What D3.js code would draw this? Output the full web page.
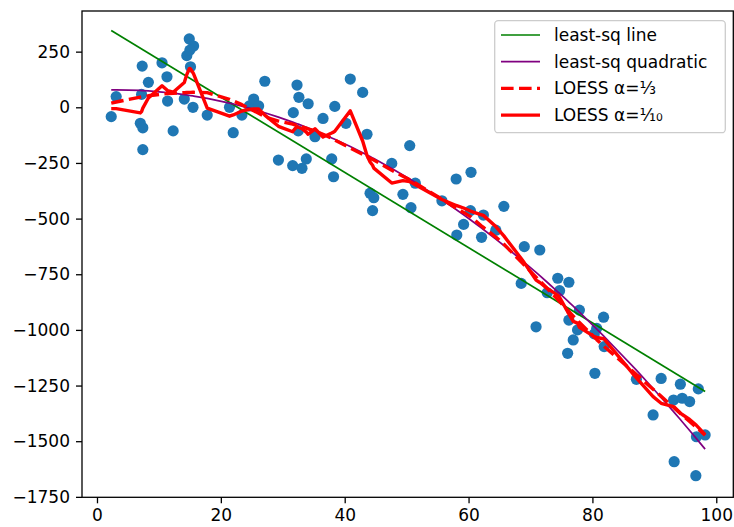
<!DOCTYPE html>
<html>
<head>
<meta charset="utf-8">
<script src="https://cdn.jsdelivr.net/npm/d3@7"></script>
<style>
  html, body { margin: 0; padding: 0; background: #fff; }
  svg { display: block; font-family: "DejaVu Sans", sans-serif; }
</style>
</head>
<body>
<svg id="chart" width="734" height="527"></svg>
<script>
// Observations
const xs = [2.3, 3.1, 7.3, 7.2, 7.0, 7.4, 7.4, 8.3, 10.5, 11.3, 11.4, 12.3, 14.1, 14.9, 15.6, 14.5, 15.0, 15.1, 15.5, 17.8,
  21.4, 22.0, 23.4, 24.6, 25.3, 26.1, 27.1, 29.3, 31.7, 31.6, 32.3, 32.6, 32.5, 33.1, 33.8, 34.1, 35.2, 36.5, 37.9, 38.2,
  38.4, 40.2, 40.9, 42.9, 43.6, 44.1, 44.7, 44.5, 47.6, 49.4, 50.5, 50.7, 51.4, 55.7, 58.0, 58.1, 59.2, 60.3, 60.4, 62.1,
  62.4, 64.4, 65.7, 68.5, 69.0, 70.9, 71.5, 72.7, 74.4, 74.7, 76.0, 76.2, 76.2, 76.9, 77.6, 77.9, 80.3, 80.4, 80.7, 81.8,
  81.9, 87.1, 89.8, 91.1, 93.1, 93.2, 94.2, 94.5, 95.7, 96.7, 96.8, 97.1, 98.2];
const ys = [-42, 48, 185, 58, -72, -92, -190, 112, 200, 137, 28, -106, 37, 307, 275, 232, 257, 182, 0, -35,
  0, -114, -35, 6, 37, 6, 117, -237, -24, -262, 100, 45, -106, -274, -232, 16, -132, -50, -232, -312,
  4, -72, 127, 67, -121, -386, -406, -464, -252, -391, -172, -451, -341, -420, -322, -574, -526, -464, -292, -584,
  -484, -552, -445, -791, -626, -986, -641, -833, -768, -824, -1105, -786, -956, -1045, -1000, -911, -1018, -1195, -993, -943,
  -1075, -1222, -1382, -1218, -1315, -1592, -1244, -1307, -1322, -1655, -1480, -1265, -1472];

const xTicks = [0, 20, 40, 60, 80, 100];
const yTicks = [250, 0, -250, -500, -750, -1000, -1250, -1500, -1750];
const legendLabels = ["least-sq line", "least-sq quadratic", "LOESS α=⅓", "LOESS α=⅒"];
const loessFracs = [1 / 3, 1 / 10];

const svg = d3.select("#chart");
const plotLeft = 82, plotTop = 11, plotRight = 733.3, plotBottom = 497.3;

const x = d3.scaleLinear().domain([-2.42, 102.75]).range([plotLeft, plotRight]);
const y = d3.scaleLinear().domain([-1752, 432.6]).range([plotBottom, plotTop]);

// ---- fits -------------------------------------------------------------
function polyfit(xv, yv, deg) {
  const m = deg + 1;
  const A = Array.from({length: m}, () => new Array(m + 1).fill(0));
  for (let i = 0; i < xv.length; i++) {
    const p = [];
    for (let k = 0; k < m; k++) p.push(Math.pow(xv[i], k));
    for (let r = 0; r < m; r++) {
      for (let c = 0; c < m; c++) A[r][c] += p[r] * p[c];
      A[r][m] += p[r] * yv[i];
    }
  }
  for (let c = 0; c < m; c++) {
    let piv = c;
    for (let r = c + 1; r < m; r++) if (Math.abs(A[r][c]) > Math.abs(A[piv][c])) piv = r;
    [A[c], A[piv]] = [A[piv], A[c]];
    for (let r = 0; r < m; r++) {
      if (r === c) continue;
      const f = A[r][c] / A[c][c];
      for (let k = c; k <= m; k++) A[r][k] -= f * A[c][k];
    }
  }
  return A.map((row, i) => row[m] / row[i]);
}

function lowess(xv, yv, frac, iters) {
  const n = xv.length;
  const order = d3.range(n).sort((a, b) => xv[a] - xv[b]);
  const X = order.map(i => xv[i]), Y = order.map(i => yv[i]);
  const k = Math.ceil(frac * n);
  let rob = new Array(n).fill(1);
  let fit = new Array(n).fill(0);
  for (let it = 0; it <= iters; it++) {
    for (let i = 0; i < n; i++) {
      const d = X.map(v => Math.abs(v - X[i]));
      const h = d.slice().sort((a, b) => a - b)[k - 1] || 1e-9;
      let sw = 0, sx = 0, sy = 0, sxx = 0, sxy = 0;
      for (let j = 0; j < n; j++) {
        const u = d[j] / h;
        if (u >= 1) continue;
        const w = Math.pow(1 - u * u * u, 3) * rob[j];
        sw += w; sx += w * X[j]; sy += w * Y[j];
        sxx += w * X[j] * X[j]; sxy += w * X[j] * Y[j];
      }
      const mx = sx / sw, my = sy / sw;
      const vx = sxx / sw - mx * mx;
      const b = vx > 1e-12 ? (sxy / sw - mx * my) / vx : 0;
      fit[i] = my + b * (X[i] - mx);
    }
    if (it < iters) {
      const res = Y.map((v, i) => v - fit[i]);
      const s = d3.median(res.map(Math.abs));
      rob = res.map(r => {
        const u = r / (6 * s);
        return Math.abs(u) < 1 ? Math.pow(1 - u * u, 2) : 0;
      });
    }
  }
  return X.map((v, i) => [v, fit[i]]);
}

const xMin = d3.min(xs), xMax = d3.max(xs);
const lin = polyfit(xs, ys, 1);
const quad = polyfit(xs, ys, 2);
const sortedX = xs.slice().sort((a, b) => a - b);
const linPts = [xMin, xMax].map(v => [v, lin[0] + lin[1] * v]);
const quadPts = sortedX.map(v => [v, quad[0] + quad[1] * v + quad[2] * v * v]);
const loessA = lowess(xs, ys, loessFracs[0], 0);
const loessB = lowess(xs, ys, loessFracs[1], 0);

// ---- axes -------------------------------------------------------------
const xAxis = svg.append("g").attr("transform", `translate(0,${plotBottom})`)
  .call(d3.axisBottom(x).tickValues(xTicks).tickSize(6).tickPadding(6).tickFormat(d3.format("d")));
const yAxis = svg.append("g").attr("transform", `translate(${plotLeft},0)`)
  .call(d3.axisLeft(y).tickValues(yTicks).tickSize(6).tickPadding(6).tickFormat(d3.format("d")));
[xAxis, yAxis].forEach(g => {
  g.select(".domain").remove();
  g.selectAll(".tick line").attr("stroke", "#000").attr("stroke-width", 1.3);
  g.selectAll(".tick text").attr("fill", "#000").style("font-size", "17px")
    .style("font-family", "DejaVu Sans, sans-serif");
});

// ---- marks ------------------------------------------------------------
const plot = svg.append("g");
plot.selectAll("circle").data(xs.map((v, i) => [v, ys[i]])).join("circle")
  .attr("cx", d => x(d[0])).attr("cy", d => y(d[1])).attr("r", 5.6)
  .attr("fill", "#1f77b4");

const line = d3.line().x(d => x(d[0])).y(d => y(d[1]));
const styles = [
  {pts: linPts, color: "green", width: 1.7, dash: null},
  {pts: quadPts, color: "purple", width: 1.7, dash: null},
  {pts: loessA, color: "#ff0000", width: 3.4, dash: "12.6,5.4"},
  {pts: loessB, color: "#ff0000", width: 3.4, dash: null}
];
styles.forEach(s => {
  plot.append("path").attr("d", line(s.pts)).attr("fill", "none")
    .attr("stroke", s.color).attr("stroke-width", s.width)
    .attr("stroke-dasharray", s.dash).attr("stroke-linejoin", "round");
});

// frame
svg.append("rect").attr("x", plotLeft).attr("y", plotTop)
  .attr("width", plotRight - plotLeft).attr("height", plotBottom - plotTop)
  .attr("fill", "none").attr("stroke", "#000").attr("stroke-width", 1.3);

// ---- legend -----------------------------------------------------------
const lg = svg.append("g");
lg.append("rect").attr("x", 494.7).attr("y", 20.7).attr("width", 230.6).attr("height", 112)
  .attr("rx", 3.5).attr("fill", "#fff").attr("fill-opacity", 0.8)
  .attr("stroke", "#cccccc").attr("stroke-width", 1.3);
styles.forEach((s, i) => {
  const cy = 35 + i * 26.7;
  lg.append("line").attr("x1", 501).attr("x2", 540).attr("y1", cy).attr("y2", cy)
    .attr("stroke", s.color).attr("stroke-width", s.width).attr("stroke-dasharray", s.dash);
  lg.append("text").attr("x", 554).attr("y", cy).attr("dy", "0.35em")
    .style("font-size", "17px").attr("fill", "#000").text(legendLabels[i]);
});
</script>
</body>
</html>
